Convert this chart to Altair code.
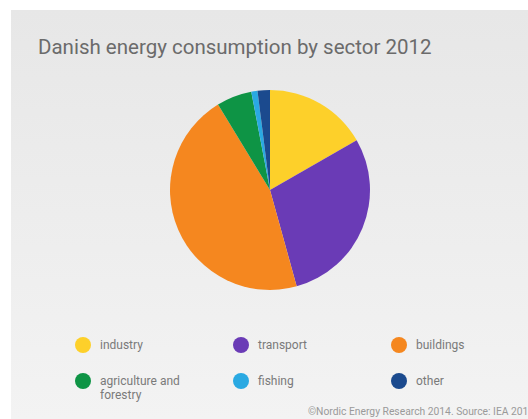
import altair as alt
import pandas as pd

sectors = ["industry", "transport", "buildings", "agriculture and forestry", "fishing", "other"]
shares = [16.7, 29.0, 45.6, 5.7, 1.0, 2.0]
colors = ["#fdd02a", "#6a3bb6", "#f5871f", "#0e9445", "#2aa9e2", "#1b4a8e"]
title_text = "Danish energy consumption by sector 2012"
footer_text = "\u00a9Nordic Energy Research 2014. Source: IEA 2014"

df = pd.DataFrame({"sector": sectors, "share": shares, "idx": list(range(len(sectors)))})
foot = pd.DataFrame({"t": [footer_text]})
bg = pd.DataFrame({"k": [0]})

FONT = "Roboto, sans-serif"

panel = alt.Chart(bg).mark_rect(
    color=alt.Gradient(
        gradient="linear", x1=0, y1=0, x2=0, y2=1,
        stops=[alt.GradientStop(offset=0, color="#e7e7e7"),
               alt.GradientStop(offset=1, color="#f3f3f3")],
    )
).encode(x=alt.value(0), x2=alt.value(517), y=alt.value(0), y2=alt.value(409))

pie = alt.Chart(df).mark_arc(radius=100).encode(
    theta=alt.Theta("share:Q", stack=True),
    order=alt.Order("idx:Q"),
    color=alt.Color(
        "sector:N",
        scale=alt.Scale(domain=sectors, range=colors),
        sort=sectors,
        legend=alt.Legend(
            title=None,
            orient="none",
            direction="horizontal",
            legendX=64,
            legendY=321,
            columns=3,
            gridAlign="all",
            columnPadding=53,
            rowPadding=14,
            symbolType="circle",
            symbolSize=256,
            symbolStrokeWidth=0,
            labelOffset=9,
            labelFontSize=12,
            labelColor="#7a7a7a",
            labelFont=FONT,
            labelLimit=300,
            labelExpr="datum.label == 'agriculture and forestry' ? ['agriculture and', 'forestry'] : datum.label",
        ),
    ),
    x=alt.value(259),
    y=alt.value(180),
)

footer = alt.Chart(foot).mark_text(
    align="left", baseline="middle", fontSize=10.3, color="#9a9a9a", font=FONT
).encode(text="t:N", x=alt.value(297), y=alt.value(402))

chart = alt.layer(panel, pie, footer).properties(
    width=517,
    height=409,
    padding={"left": 11, "top": 10, "right": 0, "bottom": 0},
    autosize=alt.AutoSizeParams(type="none"),
    background="white",
    title=alt.TitleParams(
        title_text,
        anchor="start",
        frame="group",
        orient="top",
        offset=-64,
        dx=27,
        baseline="alphabetic",
        fontSize=20.5,
        fontWeight="normal",
        color="#6b6b6b",
        font=FONT,
    ),
).configure_view(stroke=None)

chart.save("out.html", embed_options={"renderer": "svg", "actions": False})
